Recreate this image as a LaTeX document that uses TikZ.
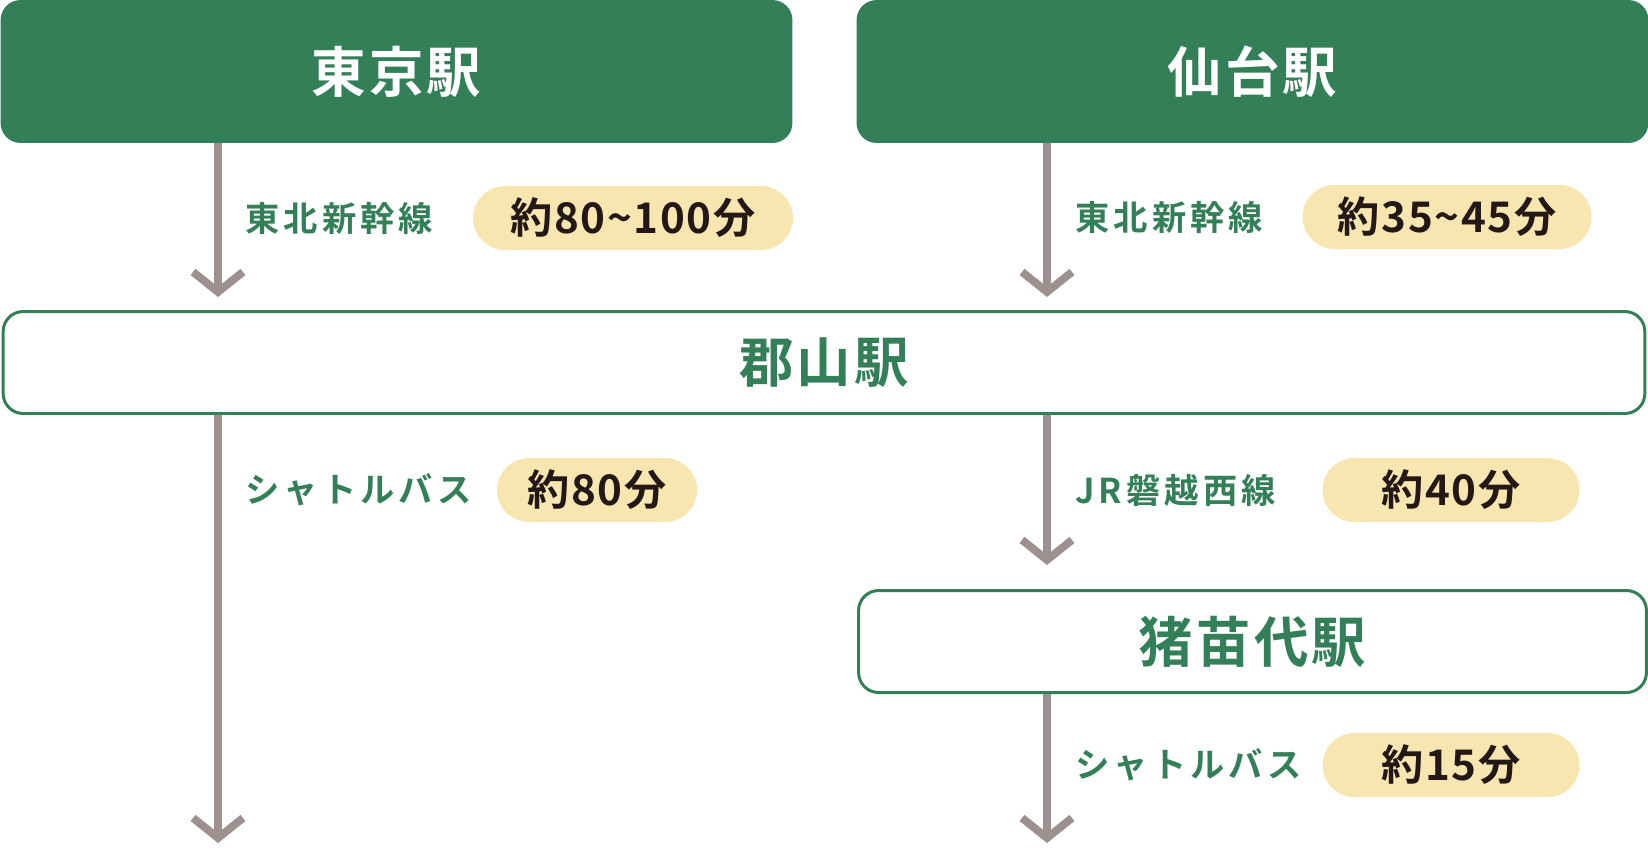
\documentclass[tikz,border=0pt]{standalone}
\usepackage{fontspec}
\setmainfont{Noto Sans CJK JP}[BoldFont={* Bold}]
\usetikzlibrary{arrows.meta,positioning}
\definecolor{stgreen}{HTML}{338058}
\definecolor{pillbg}{HTML}{F8E6B0}
\definecolor{linegray}{HTML}{9C9090}
\definecolor{inkdark}{HTML}{231815}
\begin{document}
\begin{tikzpicture}[x=0.02cm,y=-0.02cm,
        station/.style={rounded corners=0.4cm, font=\bfseries\fontsize{31}{34}\selectfont\addfontfeatures{LetterSpace=6}},
        mainst/.style={station, fill=stgreen, text=white, minimum height=2.86cm, minimum width=15.84cm},
        subst/.style={station, draw=stgreen, line width=1.7pt, fill=white, text=stgreen, minimum height=2.04cm},
        line/.style={font=\bfseries\fontsize{19.5}{22}\selectfont\addfontfeatures{LetterSpace=12}, text=stgreen, anchor=west, inner sep=0pt},
        time/.style={fill=pillbg, text=inkdark, rounded corners=0.64cm, minimum height=1.28cm,
                font=\bfseries\fontsize{24}{28}\selectfont\addfontfeatures{LetterSpace=4}},
        route/.style={draw=linegray, line width=4.5pt, -{Straight Barb[length=0.4cm,width=1.0cm]}},
    ]
    \useasboundingbox (0,0) rectangle (1648,850);

    \node[mainst] (tokyo) at (396.5,71.5) {東京駅};
    \node[mainst] (sendai) at (1252.5,71.5) {仙台駅};
    \node[subst, minimum width=32.84cm] (koriyama) at (824,362.5) {郡山駅};
    \node[subst, minimum width=15.76cm] (inawashiro) at (1252.5,641.5) {猪苗代駅};

    \coordinate (tokyo_end) at (218,297);
    \coordinate (sendai_end) at (1047,297);
    \coordinate (bus_end) at (218,843);
    \coordinate (ban_end) at (1047,565);
    \coordinate (ina_end) at (1047,843);

    \draw[route] (tokyo.south -| tokyo_end) -- (tokyo_end);
    \draw[route] (sendai.south -| sendai_end) -- (sendai_end);
    \draw[route] (koriyama.south -| bus_end) -- (bus_end);
    \draw[route] (koriyama.south -| ban_end) -- (ban_end);
    \draw[route] (inawashiro.south -| ina_end) -- (ina_end);

    % routes and times
    \node[line] (shinkansen1) at (245,218) {東北新幹線};
    \node[time, minimum width=6.4cm] (time1) at (633,218) {約80\textasciitilde100分};
    \node[line] (shinkansen2) at (1075,217) {東北新幹線};
    \node[time, minimum width=5.78cm] (time2) at (1447,217) {約35\textasciitilde45分};
    \node[line] (shuttle1) at (245,490) {シャトルバス};
    \node[time, minimum width=4cm] (time3) at (597,490) {約80分};
    \node[line] (banetsu) at (1075,490) {JR磐越西線};
    \node[time, minimum width=5.14cm] (time4) at (1451,490) {約40分};
    \node[line] (shuttle2) at (1075,765) {シャトルバス};
    \node[time, minimum width=5.14cm] (time5) at (1451,765) {約15分};
\end{tikzpicture}
\end{document}
